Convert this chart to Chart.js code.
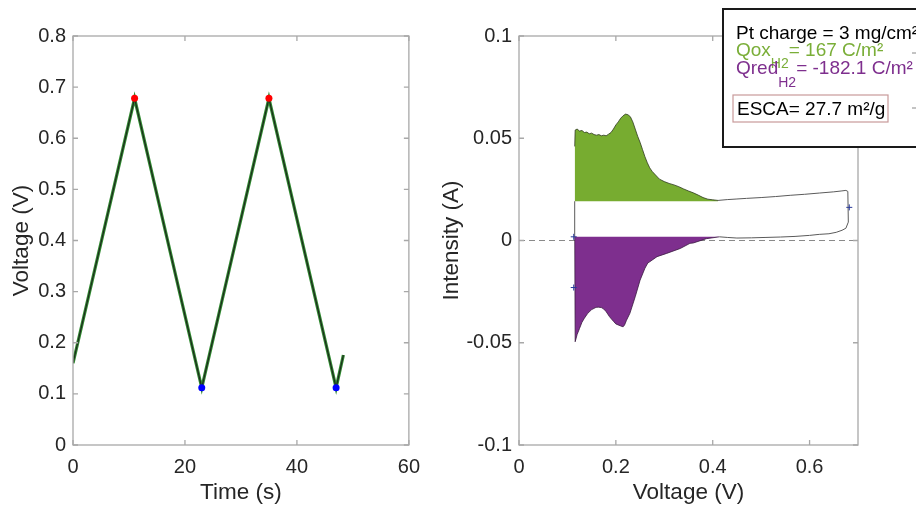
<!DOCTYPE html>
<html>
<head>
<meta charset="utf-8">
<script src="https://cdn.jsdelivr.net/npm/chart.js@4.4.0/dist/chart.umd.min.js"></script>
<style>
  html, body { margin: 0; padding: 0; background: #fff; }
  #wrap { position: relative; width: 916px; height: 506px; overflow: hidden; }
  #left { position: absolute; left: 0; top: 0; }
  #right { position: absolute; left: 430px; top: 0; }
</style>
</head>
<body>
<div id="wrap">
  <canvas id="left" width="430" height="506"></canvas>
  <canvas id="right" width="486" height="506"></canvas>
</div>
<script>
// left panel: potential sweep
const timeS = [0, 11, 23, 35, 47, 48.3];
const voltageV = [0.16, 0.678, 0.112, 0.678, 0.112, 0.176];
const peakT = [11, 35];
const peakV = [0.678, 0.678];
const valleyT = [23, 47];
const valleyV = [0.112, 0.112];
const timeTicks = [0, 20, 40, 60];
const voltTicks = [0, 0.1, 0.2, 0.3, 0.4, 0.5, 0.6, 0.7, 0.8];

// right panel: voltammogram
const oxV = [0.115, 0.116, 0.12, 0.125, 0.13, 0.135, 0.14, 0.145, 0.15, 0.155, 0.16, 0.165, 0.17, 0.175, 0.18,
  0.185, 0.19, 0.195, 0.2, 0.205, 0.21, 0.215, 0.22, 0.225, 0.23, 0.235, 0.24, 0.245, 0.25, 0.255, 0.26, 0.265,
  0.27, 0.275, 0.28, 0.29, 0.3, 0.31, 0.32, 0.33, 0.34, 0.35, 0.36, 0.37, 0.38, 0.39, 0.4, 0.411];
const oxI = [0.046, 0.054, 0.0545, 0.0535, 0.0538, 0.0528, 0.053, 0.0522, 0.0525, 0.0518, 0.0515, 0.0518, 0.0512, 0.0515, 0.0512,
  0.052, 0.0528, 0.0545, 0.0565, 0.058, 0.0598, 0.061, 0.0618, 0.0615, 0.0605, 0.058, 0.0545, 0.051, 0.048, 0.0445, 0.041, 0.038,
  0.0355, 0.0338, 0.0325, 0.030, 0.0288, 0.0279, 0.0272, 0.0263, 0.0252, 0.0242, 0.0233, 0.0222, 0.021, 0.0202, 0.0199, 0.0196];
const redV = [0.115, 0.116, 0.12, 0.125, 0.13, 0.135, 0.142, 0.15, 0.159, 0.164, 0.17, 0.175, 0.18, 0.187, 0.195, 0.2,
  0.21, 0.215, 0.218, 0.222, 0.229, 0.24, 0.25, 0.26, 0.266, 0.27, 0.285, 0.305, 0.333, 0.353, 0.36, 0.387, 0.414];
const redI = [0.0018, -0.0495, -0.046, -0.043, -0.040, -0.038, -0.0356, -0.0338, -0.0327, -0.0326, -0.0328, -0.0335, -0.0348, -0.0373, -0.0395, -0.0408,
  -0.0418, -0.0422, -0.0413, -0.039, -0.0356, -0.0275, -0.0194, -0.0136, -0.011, -0.0104, -0.0079, -0.0063, -0.0039, -0.0014, -0.0012, 0.0009, 0.0018];
const restV = [0.411, 0.43, 0.45, 0.47, 0.5, 0.53, 0.56, 0.59, 0.62, 0.65, 0.665, 0.675, 0.679, 0.68, 0.675, 0.667,
  0.655, 0.64, 0.62, 0.6, 0.57, 0.54, 0.51, 0.48, 0.45, 0.43, 0.414];
const restI = [0.0196, 0.0200, 0.0203, 0.0206, 0.021, 0.0215, 0.0221, 0.0226, 0.0232, 0.0238, 0.0242, 0.0245, 0.024, 0.009, 0.006, 0.005,
  0.004, 0.0033, 0.003, 0.0025, 0.002, 0.0017, 0.0015, 0.0013, 0.0012, 0.0015, 0.0018];
const gapV = [0.115, 0.115];
const gapI = [0.0018, 0.0192];
const markV = [0.682, 0.113, 0.113];
const markI = [0.0162, -0.023, 0.0018];
const oxBase = 0.0192;
const redBase = 0.0018;
const cvVoltTicks = [0, 0.2, 0.4, 0.6];
const cvCurrTicks = [-0.1, -0.05, 0, 0.05, 0.1];

const FONT = '"Liberation Sans", Arial, Helvetica, sans-serif';
const INK = '#262626';

const pts = (xs, ys) => xs.map((x, i) => ({ x: x, y: ys[i] }));

function axis(min, max, ticks, title, isX, size) {
  return {
    type: 'linear',
    min: min,
    max: max,
    grid: { display: false, drawTicks: false },
    border: { display: false },
    afterBuildTicks: s => { s.ticks = ticks.map(v => ({ value: v })); },
    afterFit: s => { if (isX) s.height = size; else s.width = size; },
    ticks: {
      color: INK,
      autoSkip: false,
      maxRotation: 0,
      font: { family: FONT, size: 20 },
      padding: isX ? 10 : 7,
      callback: v => String(Math.round(v * 100) / 100)
    },
    title: {
      display: true,
      text: title,
      color: INK,
      font: { family: FONT, size: 22.5 },
      padding: isX ? { top: 0, bottom: 0 } : { top: 8, bottom: 0 }
    }
  };
}

// MATLAB style box with inward ticks on all four sides
const framePlugin = {
  id: 'frame',
  afterDatasetsDraw(chart) {
    const { ctx, chartArea: a, scales } = chart;
    const t = 5;
    ctx.save();
    ctx.strokeStyle = '#a8a8a8';
    ctx.lineWidth = 1.3;
    ctx.strokeRect(a.left, a.top, a.right - a.left, a.bottom - a.top);
    ctx.beginPath();
    scales.x.ticks.forEach(tk => {
      const px = scales.x.getPixelForValue(tk.value);
      ctx.moveTo(px, a.bottom); ctx.lineTo(px, a.bottom - t);
      ctx.moveTo(px, a.top); ctx.lineTo(px, a.top + t);
    });
    scales.y.ticks.forEach(tk => {
      const py = scales.y.getPixelForValue(tk.value);
      ctx.moveTo(a.left, py); ctx.lineTo(a.left + t, py);
      ctx.moveTo(a.right, py); ctx.lineTo(a.right - t, py);
    });
    ctx.stroke();
    ctx.restore();
  }
};

new Chart(document.getElementById('left'), {
  type: 'line',
  data: {
    datasets: [
      { data: pts(peakT, peakV), showLine: false, pointRadius: 3.5, pointBackgroundColor: '#ff0000', pointBorderWidth: 0, order: 1 },
      { data: pts(valleyT, valleyV), showLine: false, pointRadius: 3.5, pointBackgroundColor: '#0000ff', pointBorderWidth: 0, order: 1 },
      { data: pts(timeS, voltageV), borderColor: '#1f2a1f', borderWidth: 1.2, pointRadius: 0, tension: 0, order: 2 },
      { data: pts(timeS, voltageV), borderColor: '#2f8a2f', borderWidth: 3.2, pointRadius: 0, tension: 0, order: 3 }
    ]
  },
  options: {
    responsive: false,
    animation: false,
    layout: { padding: { top: 36, right: 19, left: 0, bottom: 0 } },
    plugins: { legend: { display: false }, tooltip: { enabled: false } },
    scales: {
      x: axis(0, 60, timeTicks, 'Time (s)', true, 61),
      y: axis(0, 0.8, voltTicks, 'Voltage (V)', false, 73)
    }
  },
  plugins: [framePlugin]
});

const legendPlugin = {
  id: 'cvLegend',
  afterDraw(chart) {
    const ctx = chart.ctx;
    const ox = 293;
    ctx.save();
    ctx.fillStyle = '#fff';
    ctx.fillRect(ox, 9, 300, 138);
    ctx.strokeStyle = '#1a1a1a';
    ctx.lineWidth = 2;
    ctx.strokeRect(ox, 9, 300, 138);

    const main = '19px ' + FONT;
    const sub = '14px ' + FONT;
    const x0 = 306;
    ctx.textBaseline = 'alphabetic';
    ctx.textAlign = 'left';

    ctx.font = main;
    ctx.fillStyle = '#000';
    ctx.fillText('Pt charge = 3 mg/cm\u00b2', x0, 39);

    function subLine(head, tail, color, y, ySub) {
      ctx.fillStyle = color;
      ctx.font = main;
      ctx.fillText(head, x0, y);
      let x = x0 + ctx.measureText(head).width;
      ctx.font = sub;
      ctx.fillText('H2', x, ySub);
      x += ctx.measureText('H2').width;
      ctx.font = main;
      ctx.fillText(tail, x, y);
    }
    subLine('Qox', '= 167 C/m\u00b2', '#7aae38', 56, 67.5);
    subLine('Qred', '= -182.1 C/m\u00b2', '#7e2f8e', 74, 87);

    ctx.strokeStyle = '#c89a9a';
    ctx.lineWidth = 1.2;
    ctx.strokeRect(303, 95, 155, 27);
    ctx.fillStyle = '#000';
    ctx.font = main;
    ctx.fillText('ESCA= 27.7 m\u00b2/g', 307, 115);

    ctx.strokeStyle = '#888';
    ctx.lineWidth = 1;
    ctx.beginPath();
    ctx.moveTo(482, 53); ctx.lineTo(486, 53);
    ctx.moveTo(482, 108); ctx.lineTo(486, 108);
    ctx.stroke();
    ctx.restore();
  }
};

new Chart(document.getElementById('right'), {
  type: 'line',
  data: {
    datasets: [
      { data: pts(markV, markI), showLine: false, pointStyle: 'cross', pointRadius: 3, pointBorderColor: '#2a3a9a', pointBorderWidth: 1, order: 1 },
      { data: pts(restV, restI), borderColor: '#5a5a5a', borderWidth: 1, pointRadius: 0, tension: 0, order: 2 },
      { data: pts(gapV, gapI), borderColor: '#5a5a5a', borderWidth: 1, pointRadius: 0, tension: 0, order: 2 },
      { data: pts(redV, redI), borderColor: '#3a1a40', borderWidth: 0.8, backgroundColor: '#7e2f8e', fill: { value: redBase }, pointRadius: 0, tension: 0, order: 3 },
      { data: pts(oxV, oxI), borderColor: '#2f3a20', borderWidth: 0.8, backgroundColor: '#77ac30', fill: { value: oxBase }, pointRadius: 0, tension: 0, order: 4 },
      { data: pts([0, 0.7], [0, 0]), borderColor: '#8a8a8a', borderWidth: 1, borderDash: [6, 4], pointRadius: 0, order: 5 }
    ]
  },
  options: {
    responsive: false,
    animation: false,
    layout: { padding: { top: 36, right: 58, left: 0, bottom: 0 } },
    plugins: { legend: { display: false }, tooltip: { enabled: false } },
    scales: {
      x: axis(0, 0.7, cvVoltTicks, 'Voltage (V)', true, 61),
      y: axis(-0.1, 0.1, cvCurrTicks, 'Intensity (A)', false, 89)
    }
  },
  plugins: [framePlugin, legendPlugin]
});
</script>
</body>
</html>
